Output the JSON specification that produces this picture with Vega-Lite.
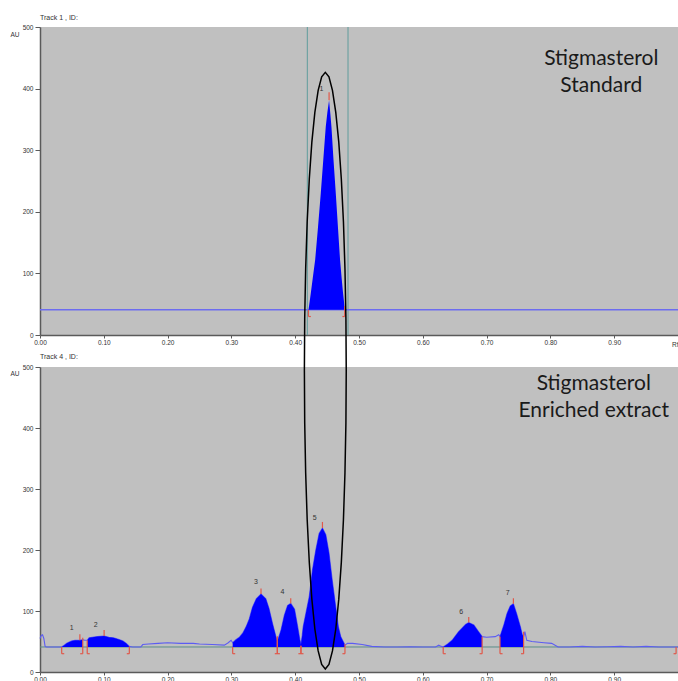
{
  "$schema": "https://vega.github.io/schema/vega-lite/v6.json",
  "background": "white",
  "padding": {"left": 10, "top": 14, "right": 0, "bottom": 0},
  "spacing": 32,
  "bounds": "flush",
  "config": {
    "view": {"fill": "#c0c0c0", "stroke": null},
    "axis": {"grid": false, "labelFont": "Liberation Sans", "labelFontSize": 6.5, "labelColor": "#333333", "domainColor": "#5a5a5a", "domainWidth": 1.5, "tickColor": "#5a5a5a", "titleFont": "Liberation Sans", "titleFontSize": 6.5, "titleFontWeight": "normal", "titleColor": "#333333", "labelFlush": false, "labelOverlap": false},
    "title": {"font": "Liberation Sans", "fontSize": 7, "fontWeight": "normal", "color": "#333333", "anchor": "start", "frame": "group", "offset": 3}
  },
  "datasets": {
    "topMarkers": [{"x": 0.419}, {"x": 0.4828}],
    "base": [{"x": 0, "y": 41}, {"x": 1, "y": 41}],
    "topPeak": [
      {"x": 0.4208, "y": 41}, {"x": 0.4215, "y": 46}, {"x": 0.4228, "y": 55}, {"x": 0.4245, "y": 68}, {"x": 0.4275, "y": 92}, {"x": 0.4313, "y": 122}, {"x": 0.4355, "y": 172}, {"x": 0.4401, "y": 230}, {"x": 0.444, "y": 284}, {"x": 0.4479, "y": 338}, {"x": 0.4505, "y": 362}, {"x": 0.4531, "y": 381}, {"x": 0.455, "y": 360}, {"x": 0.4568, "y": 338}, {"x": 0.46, "y": 285}, {"x": 0.4636, "y": 230}, {"x": 0.467, "y": 175}, {"x": 0.4703, "y": 122}, {"x": 0.4728, "y": 92}, {"x": 0.475, "y": 68}, {"x": 0.4765, "y": 54}, {"x": 0.4776, "y": 41}
    ],
    "topBrackets": [{"x": 0.4208, "yt": 41, "xf": 0.4245}, {"x": 0.4776, "yt": 47, "xf": 0.474}],
    "topApex": [{"x": 0.4531, "y": 381, "yt": 394}],
    "topLabels": [{"x": 0.4411, "y": 399, "t": "1"}],
    "topNote": [{"x": 0.8797, "y": 438, "t": "Stigmasterol"}, {"x": 0.8797, "y": 394, "t": "Standard"}],
    "signal": [
      {"x": 0.0, "y": 55}, {"x": 0.002, "y": 60}, {"x": 0.004, "y": 61}, {"x": 0.006, "y": 55}, {"x": 0.008, "y": 42}, {"x": 0.01, "y": 41}, {"x": 0.034, "y": 41}, {"x": 0.038, "y": 44}, {"x": 0.042, "y": 47}, {"x": 0.046, "y": 49}, {"x": 0.05, "y": 51}, {"x": 0.055, "y": 52}, {"x": 0.0625, "y": 52}, {"x": 0.067, "y": 53}, {"x": 0.07, "y": 52}, {"x": 0.074, "y": 52}, {"x": 0.077, "y": 56}, {"x": 0.082, "y": 57}, {"x": 0.09, "y": 58}, {"x": 0.1005, "y": 59}, {"x": 0.108, "y": 57}, {"x": 0.115, "y": 56}, {"x": 0.119, "y": 55}, {"x": 0.125, "y": 53}, {"x": 0.13, "y": 51}, {"x": 0.135, "y": 47}, {"x": 0.138, "y": 44}, {"x": 0.14, "y": 42}, {"x": 0.145, "y": 41}, {"x": 0.158, "y": 41}, {"x": 0.161, "y": 45}, {"x": 0.17, "y": 46}, {"x": 0.185, "y": 47}, {"x": 0.2, "y": 48}, {"x": 0.22, "y": 47}, {"x": 0.24, "y": 47}, {"x": 0.25, "y": 46}, {"x": 0.27, "y": 45}, {"x": 0.289, "y": 44}, {"x": 0.295, "y": 48}, {"x": 0.2995, "y": 52}, {"x": 0.302, "y": 48}, {"x": 0.307, "y": 53}, {"x": 0.3125, "y": 57}, {"x": 0.318, "y": 64}, {"x": 0.323, "y": 74}, {"x": 0.328, "y": 87}, {"x": 0.333, "y": 106}, {"x": 0.339, "y": 120}, {"x": 0.3464, "y": 128}, {"x": 0.354, "y": 120}, {"x": 0.359, "y": 104}, {"x": 0.3646, "y": 79}, {"x": 0.3698, "y": 58}, {"x": 0.372, "y": 50}, {"x": 0.3776, "y": 68}, {"x": 0.383, "y": 93}, {"x": 0.388, "y": 109}, {"x": 0.393, "y": 112.5}, {"x": 0.399, "y": 103}, {"x": 0.4036, "y": 76}, {"x": 0.4073, "y": 53}, {"x": 0.409, "y": 45}, {"x": 0.411, "y": 60}, {"x": 0.4125, "y": 74}, {"x": 0.4167, "y": 96}, {"x": 0.4219, "y": 123}, {"x": 0.427, "y": 167}, {"x": 0.4323, "y": 200}, {"x": 0.4375, "y": 227}, {"x": 0.4427, "y": 236}, {"x": 0.448, "y": 225}, {"x": 0.453, "y": 195}, {"x": 0.458, "y": 151}, {"x": 0.4635, "y": 107}, {"x": 0.4677, "y": 74}, {"x": 0.4714, "y": 58}, {"x": 0.4766, "y": 47}, {"x": 0.478, "y": 44}, {"x": 0.482, "y": 47}, {"x": 0.49, "y": 47}, {"x": 0.505, "y": 45}, {"x": 0.52, "y": 42}, {"x": 0.54, "y": 41}, {"x": 0.56, "y": 41}, {"x": 0.58, "y": 41.5}, {"x": 0.6, "y": 41}, {"x": 0.62, "y": 41}, {"x": 0.625, "y": 44}, {"x": 0.629, "y": 42}, {"x": 0.632, "y": 41}, {"x": 0.639, "y": 46}, {"x": 0.646, "y": 52}, {"x": 0.656, "y": 66}, {"x": 0.667, "y": 78}, {"x": 0.672, "y": 81}, {"x": 0.68, "y": 77}, {"x": 0.6875, "y": 66}, {"x": 0.693, "y": 58}, {"x": 0.7, "y": 57}, {"x": 0.7135, "y": 58}, {"x": 0.719, "y": 61}, {"x": 0.721, "y": 58}, {"x": 0.727, "y": 77}, {"x": 0.732, "y": 96}, {"x": 0.737, "y": 108}, {"x": 0.742, "y": 112}, {"x": 0.747, "y": 96}, {"x": 0.753, "y": 74}, {"x": 0.756, "y": 61}, {"x": 0.758, "y": 58}, {"x": 0.76, "y": 66}, {"x": 0.763, "y": 52}, {"x": 0.771, "y": 50}, {"x": 0.79, "y": 48}, {"x": 0.802, "y": 47}, {"x": 0.812, "y": 41}, {"x": 0.83, "y": 41}, {"x": 0.85, "y": 42}, {"x": 0.87, "y": 41}, {"x": 0.89, "y": 41.5}, {"x": 0.91, "y": 42}, {"x": 0.93, "y": 41}, {"x": 0.95, "y": 42}, {"x": 0.97, "y": 41}, {"x": 0.99, "y": 41}, {"x": 1.0, "y": 41}
    ],
    "peaks": [
      {"p": 1, "x": 0.034, "y": 41}, {"p": 1, "x": 0.038, "y": 44}, {"p": 1, "x": 0.042, "y": 47}, {"p": 1, "x": 0.046, "y": 49}, {"p": 1, "x": 0.05, "y": 51}, {"p": 1, "x": 0.055, "y": 52}, {"p": 1, "x": 0.0625, "y": 52}, {"p": 1, "x": 0.067, "y": 53},
      {"p": 2, "x": 0.074, "y": 52}, {"p": 2, "x": 0.077, "y": 56}, {"p": 2, "x": 0.082, "y": 57}, {"p": 2, "x": 0.09, "y": 58}, {"p": 2, "x": 0.1005, "y": 59}, {"p": 2, "x": 0.108, "y": 57}, {"p": 2, "x": 0.115, "y": 56}, {"p": 2, "x": 0.119, "y": 55}, {"p": 2, "x": 0.125, "y": 53}, {"p": 2, "x": 0.13, "y": 51}, {"p": 2, "x": 0.135, "y": 47}, {"p": 2, "x": 0.138, "y": 44}, {"p": 2, "x": 0.14, "y": 42},
      {"p": 3, "x": 0.302, "y": 48}, {"p": 3, "x": 0.307, "y": 53}, {"p": 3, "x": 0.3125, "y": 57}, {"p": 3, "x": 0.318, "y": 64}, {"p": 3, "x": 0.323, "y": 74}, {"p": 3, "x": 0.328, "y": 87}, {"p": 3, "x": 0.333, "y": 106}, {"p": 3, "x": 0.339, "y": 120}, {"p": 3, "x": 0.3464, "y": 128}, {"p": 3, "x": 0.354, "y": 120}, {"p": 3, "x": 0.359, "y": 104}, {"p": 3, "x": 0.3646, "y": 79}, {"p": 3, "x": 0.3698, "y": 58}, {"p": 3, "x": 0.372, "y": 50},
      {"p": 4, "x": 0.372, "y": 50}, {"p": 4, "x": 0.3776, "y": 68}, {"p": 4, "x": 0.383, "y": 93}, {"p": 4, "x": 0.388, "y": 109}, {"p": 4, "x": 0.393, "y": 112.5}, {"p": 4, "x": 0.399, "y": 103}, {"p": 4, "x": 0.4036, "y": 76}, {"p": 4, "x": 0.4073, "y": 53}, {"p": 4, "x": 0.409, "y": 45},
      {"p": 5, "x": 0.409, "y": 45}, {"p": 5, "x": 0.411, "y": 60}, {"p": 5, "x": 0.4125, "y": 74}, {"p": 5, "x": 0.4167, "y": 96}, {"p": 5, "x": 0.4219, "y": 123}, {"p": 5, "x": 0.427, "y": 167}, {"p": 5, "x": 0.4323, "y": 200}, {"p": 5, "x": 0.4375, "y": 227}, {"p": 5, "x": 0.4427, "y": 236}, {"p": 5, "x": 0.448, "y": 225}, {"p": 5, "x": 0.453, "y": 195}, {"p": 5, "x": 0.458, "y": 151}, {"p": 5, "x": 0.4635, "y": 107}, {"p": 5, "x": 0.4677, "y": 74}, {"p": 5, "x": 0.4714, "y": 58}, {"p": 5, "x": 0.4766, "y": 47}, {"p": 5, "x": 0.478, "y": 44},
      {"p": 6, "x": 0.632, "y": 41}, {"p": 6, "x": 0.639, "y": 46}, {"p": 6, "x": 0.646, "y": 52}, {"p": 6, "x": 0.656, "y": 66}, {"p": 6, "x": 0.667, "y": 78}, {"p": 6, "x": 0.672, "y": 81}, {"p": 6, "x": 0.68, "y": 77}, {"p": 6, "x": 0.6875, "y": 66}, {"p": 6, "x": 0.693, "y": 58},
      {"p": 7, "x": 0.721, "y": 58}, {"p": 7, "x": 0.727, "y": 77}, {"p": 7, "x": 0.732, "y": 96}, {"p": 7, "x": 0.737, "y": 108}, {"p": 7, "x": 0.742, "y": 112}, {"p": 7, "x": 0.747, "y": 96}, {"p": 7, "x": 0.753, "y": 74}, {"p": 7, "x": 0.756, "y": 61}, {"p": 7, "x": 0.758, "y": 58}
    ],
    "brackets": [
      {"x": 0.034, "yt": 41, "xf": 0.038}, {"x": 0.067, "yt": 56, "xf": 0.063}, {"x": 0.074, "yt": 52, "xf": 0.078}, {"x": 0.14, "yt": 42, "xf": 0.136},
      {"x": 0.302, "yt": 41, "xf": 0.306}, {"x": 0.372, "yt": 58, "xf": 0.368}, {"x": 0.372, "yt": 58, "xf": 0.376}, {"x": 0.409, "yt": 43, "xf": 0.405}, {"x": 0.409, "yt": 43, "xf": 0.413},
      {"x": 0.478, "yt": 46, "xf": 0.474}, {"x": 0.632, "yt": 41, "xf": 0.636}, {"x": 0.693, "yt": 58, "xf": 0.689}, {"x": 0.721, "yt": 58, "xf": 0.725}, {"x": 0.758, "yt": 66, "xf": 0.754}, {"x": 0.997, "yt": 41, "xf": 0.993}
    ],
    "apex": [
      {"x": 0.0625, "y": 52, "yt": 62}, {"x": 0.1005, "y": 59, "yt": 69}, {"x": 0.3464, "y": 128, "yt": 137}, {"x": 0.393, "y": 112.5, "yt": 121}, {"x": 0.4427, "y": 236, "yt": 246}, {"x": 0.672, "y": 81, "yt": 90}, {"x": 0.742, "y": 112, "yt": 121}
    ],
    "labels": [
      {"x": 0.0495, "y": 72, "t": "1"}, {"x": 0.0875, "y": 77, "t": "2"}, {"x": 0.3385, "y": 147, "t": "3"}, {"x": 0.38, "y": 131, "t": "4"}, {"x": 0.4307, "y": 253, "t": "5"}, {"x": 0.66, "y": 99, "t": "6"}, {"x": 0.733, "y": 129, "t": "7"}
    ],
    "note": [{"x": 0.868, "y": 463, "t": "Stigmasterol"}, {"x": 0.868, "y": 418.5, "t": "Enriched extract"}],
    "ellipse": [
      {"i": 0, "x": 0.48, "y": 494}, {"i": 1, "x": 0.4795, "y": 578.9}, {"i": 2, "x": 0.478, "y": 661.2}, {"i": 3, "x": 0.4756, "y": 738.5}, {"i": 4, "x": 0.4723, "y": 808.3}, {"i": 5, "x": 0.4683, "y": 868.6}, {"i": 6, "x": 0.4636, "y": 917.5}, {"i": 7, "x": 0.4584, "y": 953.5}, {"i": 8, "x": 0.4529, "y": 975.6}, {"i": 9, "x": 0.4472, "y": 983},
      {"i": 10, "x": 0.4415, "y": 975.6}, {"i": 11, "x": 0.436, "y": 953.5}, {"i": 12, "x": 0.4308, "y": 917.5}, {"i": 13, "x": 0.4261, "y": 868.6}, {"i": 14, "x": 0.4221, "y": 808.3}, {"i": 15, "x": 0.4188, "y": 738.5}, {"i": 16, "x": 0.4164, "y": 661.2}, {"i": 17, "x": 0.4149, "y": 578.9}, {"i": 18, "x": 0.4144, "y": 494},
      {"i": 19, "x": 0.4149, "y": 409.1}, {"i": 20, "x": 0.4164, "y": 326.8}, {"i": 21, "x": 0.4188, "y": 249.5}, {"i": 22, "x": 0.4221, "y": 179.7}, {"i": 23, "x": 0.4261, "y": 119.4}, {"i": 24, "x": 0.4308, "y": 70.5}, {"i": 25, "x": 0.436, "y": 34.5}, {"i": 26, "x": 0.4415, "y": 12.4}, {"i": 27, "x": 0.4472, "y": 5},
      {"i": 28, "x": 0.4529, "y": 12.4}, {"i": 29, "x": 0.4584, "y": 34.5}, {"i": 30, "x": 0.4636, "y": 70.5}, {"i": 31, "x": 0.4683, "y": 119.4}, {"i": 32, "x": 0.4723, "y": 179.7}, {"i": 33, "x": 0.4756, "y": 249.5}, {"i": 34, "x": 0.478, "y": 326.8}, {"i": 35, "x": 0.4795, "y": 409.1}, {"i": 36, "x": 0.48, "y": 494}
    ]
  },
  "vconcat": [
    {
      "title": "Track 1 , ID:",
      "width": 638,
      "height": 308,
      "encoding": {
        "x": {"field": "x", "type": "quantitative", "scale": {"domain": [0, 1], "nice": false, "zero": false},
          "axis": {"values": [0, 0.1, 0.2, 0.3, 0.4, 0.5, 0.6, 0.7, 0.8, 0.9], "format": ".2f", "tickSize": 3, "labelPadding": 1, "title": "Rf", "titleAlign": "right", "titleX": 638, "titleY": 9, "titleBaseline": "middle"}}
      },
      "layer": [
        {"data": {"name": "topMarkers"}, "mark": {"type": "rule", "color": "#5f9c9c", "strokeWidth": 1}, "encoding": {}},
        {"data": {"name": "base"}, "mark": {"type": "line", "color": "#6c6cf0", "strokeWidth": 1.3},
          "encoding": {"y": {"field": "y", "type": "quantitative", "scale": {"domain": [0, 500], "nice": false},
            "axis": {"values": [0, 50, 100, 150, 200, 250, 300, 350, 400, 450, 500], "tickSize": 5, "labelPadding": 2, "title": "AU", "titleAngle": 0, "titleAlign": "left", "titleBaseline": "middle", "titleX": -30, "titleY": 7}}}},
        {"data": {"name": "topPeak"}, "mark": {"type": "area", "color": "#0000ff", "opacity": 1},
          "encoding": {"y": {"field": "y", "type": "quantitative"}, "y2": {"datum": 41}}},
        {"data": {"name": "topBrackets"}, "mark": {"type": "rule", "color": "#e0584a", "strokeWidth": 1.2},
          "encoding": {"y": {"field": "yt", "type": "quantitative"}, "y2": {"datum": 30}}},
        {"data": {"name": "topBrackets"}, "mark": {"type": "rule", "color": "#e0584a", "strokeWidth": 1.2},
          "encoding": {"x2": {"field": "xf"}, "y": {"datum": 30}}},
        {"data": {"name": "topApex"}, "mark": {"type": "rule", "color": "#e0584a", "strokeWidth": 1.2},
          "encoding": {"y": {"field": "y", "type": "quantitative"}, "y2": {"field": "yt"}}},
        {"data": {"name": "topLabels"}, "mark": {"type": "text", "font": "Liberation Sans", "fontSize": 7, "color": "#333333"},
          "encoding": {"y": {"field": "y", "type": "quantitative"}, "text": {"field": "t"}}},
        {"data": {"name": "topNote"}, "mark": {"type": "text", "font": "Lato", "fontSize": 21, "color": "#1a1a1a", "baseline": "alphabetic"},
          "encoding": {"y": {"field": "y", "type": "quantitative"}, "text": {"field": "t"}}}
      ]
    },
    {
      "title": {"text": "Track 4 , ID:", "dy": 294},
      "width": 638,
      "height": 305,
      "encoding": {
        "x": {"field": "x", "type": "quantitative", "scale": {"domain": [0, 1], "nice": false, "zero": false},
          "axis": {"values": [0, 0.1, 0.2, 0.3, 0.4, 0.5, 0.6, 0.7, 0.8, 0.9], "format": ".2f", "tickSize": 3, "labelPadding": 1, "title": null}}
      },
      "layer": [
        {"data": {"name": "base"}, "mark": {"type": "line", "color": "#5b8c88", "strokeWidth": 1},
          "encoding": {"y": {"field": "y", "type": "quantitative", "scale": {"domain": [0, 500], "nice": false},
            "axis": {"values": [0, 50, 100, 150, 200, 250, 300, 350, 400, 450, 500], "tickSize": 5, "labelPadding": 2, "title": "AU", "titleAngle": 0, "titleAlign": "left", "titleBaseline": "middle", "titleX": -30, "titleY": 6}}}},
        {"data": {"name": "signal"}, "mark": {"type": "line", "color": "#5c5cf2", "strokeWidth": 1.1},
          "encoding": {"y": {"field": "y", "type": "quantitative"}}},
        {"data": {"name": "peaks"}, "mark": {"type": "area", "color": "#0000ff", "opacity": 1},
          "encoding": {"y": {"field": "y", "type": "quantitative"}, "y2": {"datum": 41}, "detail": {"field": "p"}}},
        {"data": {"name": "brackets"}, "mark": {"type": "rule", "color": "#e0584a", "strokeWidth": 1.2},
          "encoding": {"y": {"field": "yt", "type": "quantitative"}, "y2": {"datum": 30}}},
        {"data": {"name": "brackets"}, "mark": {"type": "rule", "color": "#e0584a", "strokeWidth": 1.2},
          "encoding": {"x2": {"field": "xf"}, "y": {"datum": 30}}},
        {"data": {"name": "apex"}, "mark": {"type": "rule", "color": "#e0584a", "strokeWidth": 1.2},
          "encoding": {"y": {"field": "y", "type": "quantitative"}, "y2": {"field": "yt"}}},
        {"data": {"name": "labels"}, "mark": {"type": "text", "font": "Liberation Sans", "fontSize": 7, "color": "#333333"},
          "encoding": {"y": {"field": "y", "type": "quantitative"}, "text": {"field": "t"}}},
        {"data": {"name": "note"}, "mark": {"type": "text", "font": "Lato", "fontSize": 21, "color": "#1a1a1a", "baseline": "alphabetic"},
          "encoding": {"y": {"field": "y", "type": "quantitative"}, "text": {"field": "t"}}},
        {"data": {"name": "ellipse"}, "mark": {"type": "line", "color": "#000000", "strokeWidth": 1.5, "clip": false},
          "encoding": {"y": {"field": "y", "type": "quantitative"}, "order": {"field": "i", "type": "quantitative"}}}
      ]
    }
  ]
}
